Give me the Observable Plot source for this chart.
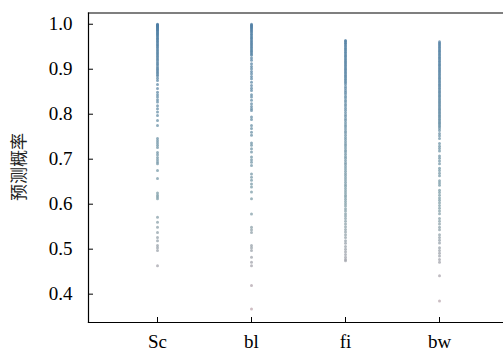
<!DOCTYPE html>
<html><head><meta charset="utf-8">
<script src="https://cdn.jsdelivr.net/npm/d3@7"></script>
<script src="https://cdn.jsdelivr.net/npm/@observablehq/plot@0.6"></script>
<style>
body{margin:0;background:#fff}
#wrap{position:relative;width:503px;height:354px}
#ylab{position:absolute;left:17px;top:167px;transform:translate(-50%,-50%) rotate(-90deg);font-family:"Noto Sans CJK SC",sans-serif;font-size:17px;color:#222;white-space:nowrap;line-height:1}
</style>
</head><body><div id="wrap"><div id="chart"></div><div id="ylab"></div></div>
<script>
const categories = ["Sc", "bl", "fi", "bw"];
const yTicks = [0.4, 0.5, 0.6, 0.7, 0.8, 0.9, 1.0];
const yLabel = "预测概率";

const scValues = [1.000, 0.999, 0.998, 0.997, 0.996, 0.995, 0.994, 0.993, 0.991, 0.990, 0.988, 0.987, 0.985, 0.983, 0.981, 0.979, 0.977, 0.975, 0.973, 0.970, 0.968, 0.966, 0.963, 0.961, 0.958, 0.955, 0.953, 0.950, 0.947, 0.944, 0.941, 0.938, 0.935, 0.932, 0.929, 0.926, 0.923, 0.920, 0.916, 0.913, 0.910, 0.906, 0.903, 0.900, 0.897, 0.894, 0.891, 0.888, 0.885,
  0.880, 0.875, 0.866, 0.857, 0.849, 0.843, 0.838, 0.832, 0.827, 0.819, 0.812, 0.805, 0.797, 0.786, 0.775, 0.746, 0.741, 0.736, 0.731, 0.726, 0.715, 0.710, 0.704, 0.699, 0.694, 0.690, 0.675, 0.657, 0.625, 0.620, 0.616, 0.612, 0.571, 0.560, 0.549, 0.537, 0.526, 0.519, 0.508, 0.503, 0.497, 0.463];

const blValues = [1.000, 0.998, 0.996, 0.994, 0.992, 0.990, 0.987, 0.985, 0.982, 0.979, 0.976, 0.973, 0.970, 0.967, 0.964, 0.961, 0.958, 0.955, 0.952, 0.949, 0.946, 0.943, 0.940, 0.937, 0.934, 0.931,
  0.925, 0.920, 0.912, 0.906, 0.901, 0.895, 0.890, 0.884, 0.879, 0.871, 0.864, 0.858, 0.853, 0.843, 0.838, 0.831, 0.823, 0.817, 0.812, 0.808, 0.794, 0.788, 0.775, 0.768, 0.760, 0.753, 0.736, 0.731, 0.723, 0.716, 0.705, 0.699, 0.693, 0.686, 0.667, 0.660, 0.653, 0.645, 0.638, 0.627, 0.612, 0.578, 0.549, 0.543, 0.537, 0.508, 0.503, 0.497, 0.482, 0.471, 0.463, 0.419, 0.367];

const fiValues = [0.964, 0.962, 0.959, 0.957, 0.954, 0.951, 0.948, 0.945, 0.942, 0.939, 0.936, 0.933, 0.930, 0.927, 0.924, 0.921, 0.918, 0.915, 0.912, 0.909, 0.906, 0.903, 0.900, 0.897, 0.894, 0.891, 0.888, 0.885, 0.882, 0.879, 0.876, 0.873, 0.870, 0.866, 0.861, 0.857, 0.853, 0.849, 0.845, 0.840, 0.836, 0.831, 0.827, 0.822, 0.818, 0.813, 0.809, 0.804, 0.799, 0.795, 0.790, 0.786, 0.781, 0.776, 0.772, 0.767, 0.762, 0.758, 0.753, 0.748, 0.744, 0.739, 0.734, 0.730, 0.725, 0.720, 0.716, 0.711, 0.706, 0.702, 0.697, 0.692, 0.688, 0.683, 0.678, 0.673, 0.668, 0.664, 0.659, 0.654, 0.649, 0.644, 0.640, 0.635, 0.630, 0.625, 0.620, 0.616, 0.611, 0.606, 0.601, 0.596, 0.590, 0.585, 0.579, 0.574, 0.568, 0.562, 0.556, 0.550, 0.544, 0.538, 0.532, 0.526, 0.519, 0.513, 0.506, 0.500, 0.494, 0.488, 0.482, 0.477, 0.474];

const bwValues = [0.961, 0.958, 0.955, 0.952, 0.949, 0.946, 0.943, 0.940, 0.937, 0.934, 0.931, 0.928, 0.925, 0.922, 0.919, 0.916, 0.913, 0.910, 0.907, 0.904, 0.901, 0.898, 0.895, 0.892, 0.889, 0.886, 0.883, 0.880, 0.877, 0.874, 0.871, 0.868, 0.865, 0.862, 0.859, 0.856, 0.853, 0.850, 0.847, 0.844, 0.841, 0.838, 0.835, 0.832, 0.829, 0.826, 0.823, 0.820, 0.817, 0.814, 0.811, 0.808, 0.805, 0.802, 0.799, 0.796, 0.793, 0.790, 0.787, 0.784, 0.781, 0.778, 0.775, 0.772, 0.768, 0.764,
  0.757, 0.752, 0.746, 0.735, 0.729, 0.724, 0.718, 0.707, 0.702, 0.696, 0.690, 0.680, 0.675, 0.669, 0.663, 0.652, 0.647, 0.642, 0.631, 0.626, 0.620, 0.614, 0.609, 0.603, 0.597, 0.591, 0.585, 0.579, 0.568, 0.562, 0.556, 0.549, 0.543, 0.532, 0.526, 0.520, 0.514, 0.503, 0.497, 0.491, 0.485, 0.477, 0.471, 0.441, 0.385];

const seriesValues = [scValues, blValues, fiValues, bwValues];
const data = categories.flatMap((c, i) => seriesValues[i].map(p => ({cat: c, p})));

const chart = Plot.plot({
  width: 503,
  height: 354,
  marginLeft: 88,
  marginRight: 0,
  marginTop: 12.5,
  marginBottom: 32,
  x: {domain: categories, type: "point", range: [109, 487]},
  y: {domain: [0.337, 1.025]},
  color: {type: "linear", domain: [0.35, 0.6, 1.0], range: ["#c4a9b0", "#809fa8", "#4f7fa6"]},
  marks: [
    Plot.frame({stroke: "#000", strokeWidth: 1.2, anchor: "top"}),
    Plot.frame({stroke: "#000", strokeWidth: 1.2, anchor: "left"}),
    Plot.frame({stroke: "#000", strokeWidth: 1.2, anchor: "bottom"}),
    Plot.dot(data, {x: "cat", y: "p", fill: "p", r: 1.5, fillOpacity: 0.75}),
    Plot.axisX({tickSize: -5, tickPadding: 17, label: null, fontSize: 19}),
    Plot.axisY({ticks: yTicks, tickFormat: ".1f", tickSize: -5, tickPadding: 21, label: null, fontSize: 19})
  ]
});
chart.querySelectorAll("text").forEach(t => {
  t.setAttribute("font-family", "Liberation Serif");
  t.style.setProperty("font-family", "'Liberation Serif'", "important");
});
document.getElementById("chart").append(chart);
document.getElementById("ylab").textContent = yLabel;
</script>
</body></html>
